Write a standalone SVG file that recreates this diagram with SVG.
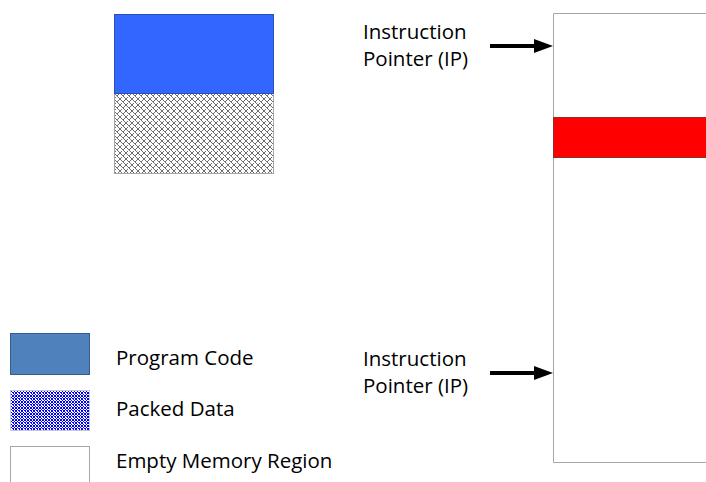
<svg xmlns="http://www.w3.org/2000/svg" width="706" height="482" viewBox="0 0 706 482">
<defs>
<style>
.t{font-family:"Open Sans","Liberation Sans",sans-serif;font-size:20.5px;fill:#000}
.box{stroke:#a6a6a6;stroke-width:1}
.arr{stroke:#000;stroke-width:4;fill:none}
</style>
<pattern id="pg" width="6" height="6" patternUnits="userSpaceOnUse" x="114" y="93">
<rect width="6" height="6" fill="#fff"/>
<g fill="#6e6e6e">
<rect x="0" y="0" width="1" height="1"/><rect x="1" y="1" width="1" height="1"/><rect x="2" y="2" width="1" height="1"/>
<rect x="3" y="3" width="1" height="1"/><rect x="4" y="4" width="1" height="1"/><rect x="5" y="5" width="1" height="1"/>
<rect x="5" y="0" width="1" height="1"/><rect x="4" y="1" width="1" height="1"/><rect x="3" y="2" width="1" height="1"/>
<rect x="1" y="4" width="1" height="1"/><rect x="0" y="5" width="1" height="1"/>
</g>
</pattern>
<pattern id="pb" width="6" height="6" patternUnits="userSpaceOnUse" x="10" y="390">
<rect width="6" height="6" fill="#fff"/>
<g fill="#0000ff">
<rect x="0" y="0" width="1" height="1"/><rect x="1" y="1" width="1" height="1"/><rect x="2" y="2" width="1" height="1"/>
<rect x="3" y="3" width="1" height="1"/><rect x="4" y="4" width="1" height="1"/><rect x="5" y="5" width="1" height="1"/>
<rect x="5" y="0" width="1" height="1"/><rect x="4" y="1" width="1" height="1"/><rect x="3" y="2" width="1" height="1"/>
<rect x="1" y="4" width="1" height="1"/><rect x="0" y="5" width="1" height="1"/>
<rect x="2" y="0" width="2" height="1"/><rect x="0" y="2" width="1" height="2"/><rect x="5" y="2" width="1" height="2"/><rect x="2" y="5" width="2" height="1"/>
</g>
</pattern>
</defs>
<rect width="706" height="482" fill="#fff"/>

<g id="program-block">
<rect x="114.5" y="93.5" width="159" height="80" fill="url(#pg)" class="box"/>
<rect x="114.5" y="14.5" width="159" height="79" fill="#3366ff" stroke="#2a4fb8" stroke-width="1"/>
</g>

<g id="memory">
<path d="M706 13.5 H553.5 V462.5 H706" fill="#fff" class="box"/>
<rect x="553.5" y="117.5" width="153" height="40" fill="#ff0000" stroke="#8a3030" stroke-width="1"/>
</g>

<g id="ip-top">
<text class="t" x="363" y="39">Instruction</text>
<text class="t" x="363" y="66">Pointer (IP)</text>
</g>
<g id="ip-bottom">
<text class="t" x="363" y="366">Instruction</text>
<text class="t" x="363" y="393">Pointer (IP)</text>
</g>

<g id="connectors">
<line class="arr" x1="490" y1="46" x2="536" y2="46"/>
<path d="M534 39 L553 46 L534 53 Z" fill="#000"/>
<line class="arr" x1="490" y1="373" x2="536" y2="373"/>
<path d="M534 366 L553 373 L534 380 Z" fill="#000"/>
</g>

<g id="legend-program">
<rect x="10.5" y="333.5" width="79" height="41" fill="#4f81bd" stroke="#385d8a"/>
<text class="t" x="116" y="365">Program Code</text>
</g>
<g id="legend-packed">
<rect x="10.5" y="390.5" width="79" height="40" fill="url(#pb)" stroke="#c8c8c8"/>
<text class="t" x="116" y="416">Packed Data</text>
</g>
<g id="legend-empty">
<rect x="10.5" y="446.5" width="79" height="40" fill="#fff" class="box"/>
<text class="t" x="116" y="468">Empty Memory Region</text>
</g>
</svg>
